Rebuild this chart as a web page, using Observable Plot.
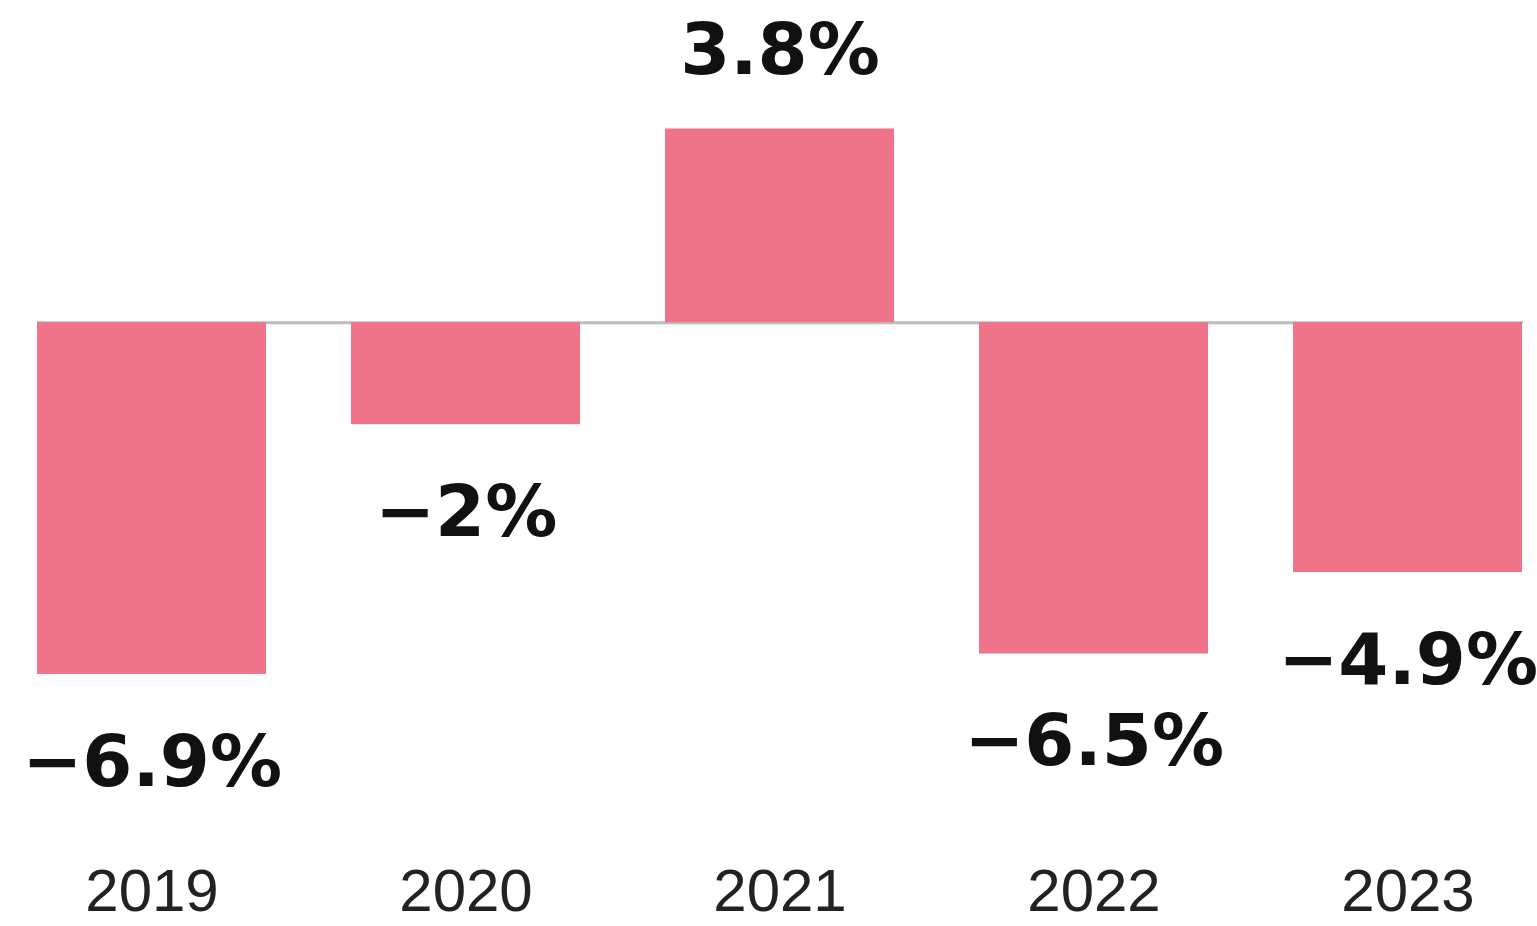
<!DOCTYPE html>
<html>
<head>
<meta charset="utf-8">
<script src="https://cdn.jsdelivr.net/npm/d3@7"></script>
<script src="https://cdn.jsdelivr.net/npm/@observablehq/plot@0.6"></script>
<style>
  html, body { margin: 0; padding: 0; background: #fff; }
  #chart { width: 1537px; height: 926px; overflow: hidden; }
</style>
</head>
<body>
<div id="chart"></div>
<script>
const years = ["2019", "2020", "2021", "2022", "2023"];
const values = [-6.9, -2, 3.8, -6.5, -4.9];
const labels = ["−6.9%", "−2%", "3.8%", "−6.5%", "−4.9%"];

const data = years.map((year, i) => ({year, value: values[i], label: labels[i]}));

const chart = Plot.plot({
  width: 1537,
  height: 926,
  marginLeft: 37,
  marginRight: 14,
  marginTop: 1,
  marginBottom: 94,
  style: {background: "#fff", fontFamily: "'Liberation Sans', sans-serif"},
  x: {domain: years, paddingInner: 0.27, paddingOuter: 0, label: null},
  y: {domain: [-10, 6.3], axis: null},
  marks: [
    Plot.ruleY([0], {stroke: "#bdbdbd", strokeWidth: 3}),
    Plot.barY(data, {x: "year", y: "value", fill: "#ef7489"}),
    Plot.text(data.filter(d => d.value >= 0), {
      x: "year", y: "value", text: "label", dy: -78,
      fontSize: 72, fontWeight: "bold", fill: "#111", fontFamily: "'DejaVu Sans', sans-serif"
    }),
    Plot.text(data.filter(d => d.value < 0), {
      x: "year", y: "value", text: "label", dy: 88,
      fontSize: 72, fontWeight: "bold", fill: "#111", fontFamily: "'DejaVu Sans', sans-serif"
    }),
    Plot.axisX({tickSize: 0, tickPadding: 36, fontSize: 60, label: null, fill: "#222", fontFamily: "'Liberation Sans', sans-serif"})
  ]
});
document.getElementById("chart").appendChild(chart);
</script>
</body>
</html>
